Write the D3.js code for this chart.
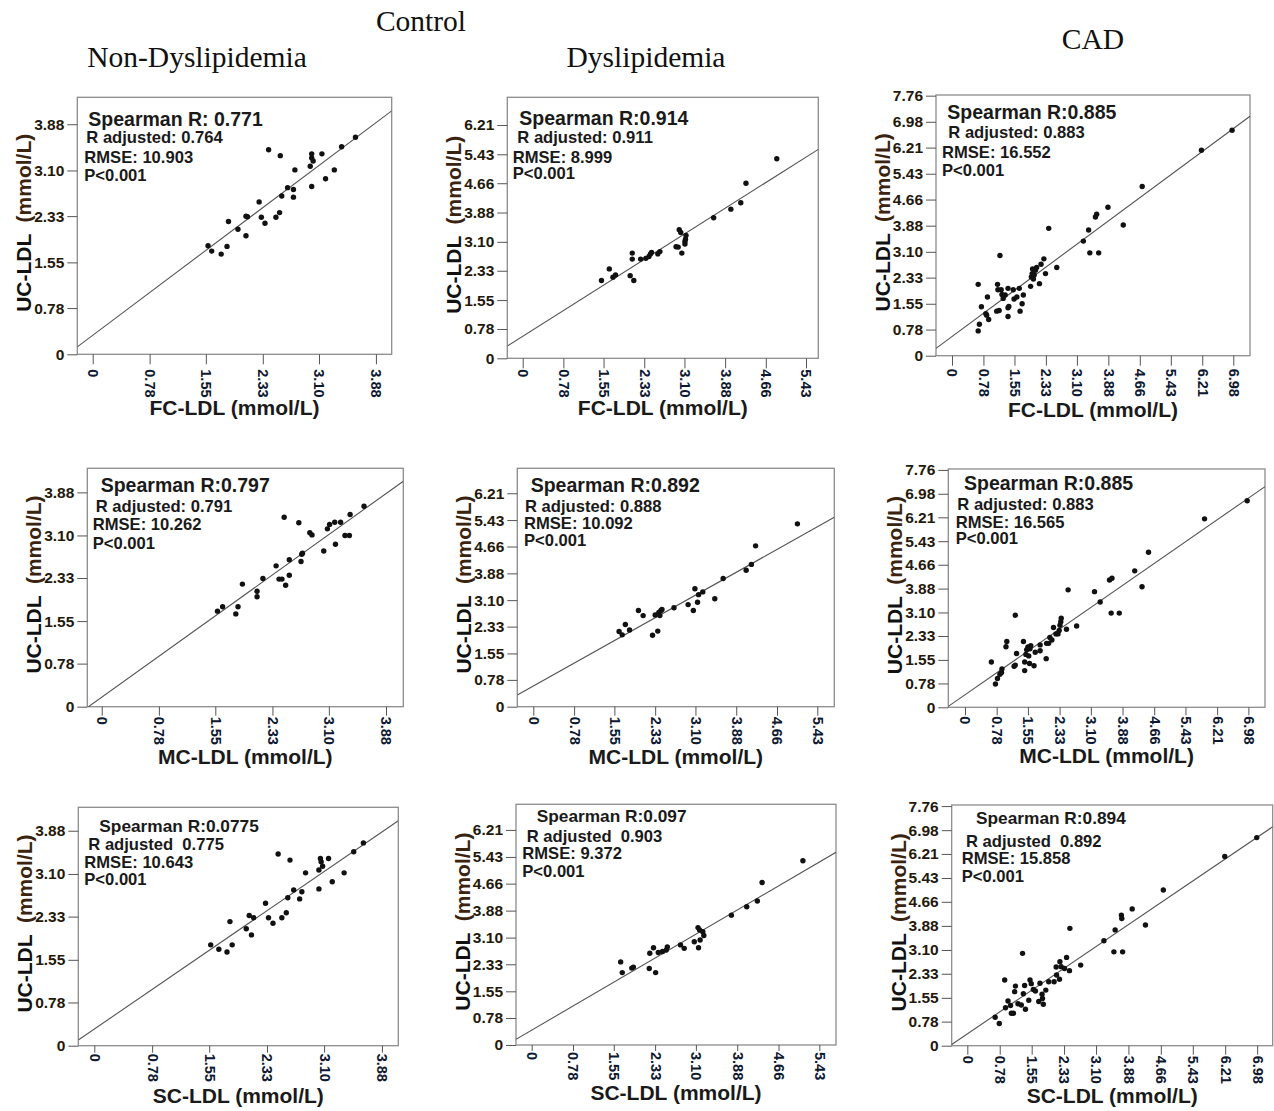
<!DOCTYPE html>
<html>
<head>
<meta charset="utf-8">
<script src="https://cdn.jsdelivr.net/npm/d3@7"></script>
<style>
  body { margin: 0; background: #fff; }
  text { font-family: 'Liberation Sans', Arial, sans-serif; }
</style>
</head>
<body>
<script>
//Data - [x, y] in mmol/L
const ndFC = [[1.58,1.83],[1.63,1.74],[1.76,1.69],[1.84,1.82],[1.86,2.24],[1.99,2.11],[2.10,2.00],[2.10,2.33],[2.12,2.32],[2.28,2.57],[2.31,2.31],[2.36,2.21],[2.41,3.45],[2.51,2.31],[2.56,2.39],[2.57,3.35],[2.59,2.67],[2.67,2.81],[2.75,2.78],[2.75,2.65],[2.77,3.11],[2.98,3.17],[3.00,3.38],[3.00,3.31],[3.02,3.26],[3.00,2.83],[3.14,3.38],[3.19,2.96],[3.31,3.11],[3.41,3.50],[3.60,3.66]];
const dFC = [[1.51,2.07],[1.66,2.38],[1.73,2.16],[1.78,2.22],[2.06,2.20],[2.10,2.80],[2.10,2.64],[2.13,2.07],[2.26,2.64],[2.36,2.66],[2.42,2.71],[2.45,2.78],[2.47,2.82],[2.59,2.78],[2.63,2.84],[2.94,2.97],[2.98,2.96],[3.00,3.42],[3.03,3.35],[3.05,2.80],[3.11,3.04],[3.12,3.17],[3.13,3.27],[3.11,3.11],[3.66,3.74],[3.99,3.97],[4.18,4.14],[4.28,4.66],[4.87,5.31]];
const cadFC = [[0.65,0.74],[0.68,0.94],[0.65,2.13],[0.73,1.46],[0.88,1.75],[0.84,1.25],[0.91,1.08],[0.86,1.21],[1.11,1.33],[1.13,2.13],[1.14,1.97],[1.17,1.35],[1.19,2.99],[1.22,1.97],[1.24,1.83],[1.27,1.71],[1.32,1.81],[1.39,2.01],[1.39,1.43],[1.39,1.17],[1.41,1.47],[1.52,1.97],[1.54,1.69],[1.61,1.75],[1.67,2.01],[1.69,1.33],[1.74,1.55],[1.77,1.81],[1.95,2.07],[1.97,2.35],[1.99,2.45],[2.00,2.59],[2.02,2.29],[2.04,2.41],[2.07,2.55],[2.10,2.63],[2.17,2.15],[2.21,2.73],[2.28,2.89],[2.32,2.45],[2.40,3.80],[2.60,2.63],[3.26,3.42],[3.39,3.75],[3.42,3.07],[3.56,4.14],[3.59,4.22],[3.64,3.07],[3.87,4.43],[4.25,3.90],[4.72,5.05],[6.19,6.13],[6.95,6.73]];
const ndMC = [[1.58,1.73],[1.65,1.81],[1.83,1.68],[1.86,1.81],[1.92,2.22],[2.12,2.09],[2.12,1.99],[2.20,2.32],[2.38,2.55],[2.42,2.31],[2.46,2.31],[2.49,3.43],[2.51,2.20],[2.56,2.66],[2.56,2.38],[2.69,3.33],[2.72,2.63],[2.73,2.76],[2.74,2.78],[2.84,3.15],[2.87,3.11],[3.03,2.82],[3.08,3.22],[3.11,3.30],[3.18,3.34],[3.19,2.94],[3.26,3.34],[3.32,3.10],[3.38,3.10],[3.39,3.48],[3.58,3.63]];
const dMC = [[1.64,2.19],[1.70,2.09],[1.76,2.39],[1.84,2.23],[2.01,2.80],[2.10,2.65],[2.28,2.08],[2.33,2.67],[2.38,2.20],[2.40,2.74],[2.42,2.65],[2.44,2.80],[2.46,2.83],[2.69,2.88],[2.96,2.97],[3.06,2.80],[3.09,3.43],[3.14,3.04],[3.16,3.26],[3.24,3.34],[3.47,3.14],[3.63,3.73],[4.07,3.97],[4.17,4.14],[4.25,4.68],[5.05,5.32]];
const cadMC = [[0.65,1.48],[0.75,0.76],[0.80,0.94],[0.86,1.08],[0.90,1.14],[0.91,1.25],[1.01,1.98],[1.03,2.15],[1.21,1.34],[1.24,1.38],[1.24,3.01],[1.27,1.76],[1.44,2.15],[1.47,1.20],[1.47,1.48],[1.50,1.73],[1.52,1.88],[1.55,1.97],[1.57,1.68],[1.59,1.43],[1.60,1.91],[1.62,2.01],[1.70,1.36],[1.73,1.80],[1.85,1.85],[1.85,2.04],[2.00,1.59],[2.01,2.09],[2.06,2.09],[2.09,2.28],[2.14,2.20],[2.18,2.61],[2.24,2.40],[2.29,2.40],[2.32,2.51],[2.34,2.68],[2.37,2.91],[2.36,2.80],[2.50,2.55],[2.54,3.84],[2.75,2.66],[3.19,3.78],[3.33,3.44],[3.56,4.16],[3.62,4.22],[3.60,3.08],[3.80,3.08],[4.18,4.46],[4.36,3.94],[4.52,5.07],[5.90,6.16],[6.95,6.75]];
const ndSC = [[1.57,1.82],[1.68,1.74],[1.79,1.69],[1.83,2.24],[1.86,1.82],[2.05,2.11],[2.09,2.35],[2.12,2.00],[2.15,2.31],[2.31,2.57],[2.35,2.31],[2.41,2.21],[2.48,3.46],[2.53,2.31],[2.59,2.40],[2.61,2.67],[2.64,3.35],[2.69,2.81],[2.77,2.65],[2.80,2.78],[2.85,3.12],[3.03,2.83],[3.03,3.17],[3.05,3.38],[3.06,3.32],[3.08,3.24],[3.16,3.38],[3.21,2.96],[3.37,3.12],[3.50,3.50],[3.63,3.66]];
const dSC = [[1.68,2.40],[1.71,2.09],[1.89,2.22],[1.92,2.25],[2.22,2.21],[2.23,2.65],[2.30,2.81],[2.34,2.09],[2.39,2.67],[2.47,2.70],[2.54,2.74],[2.56,2.83],[2.81,2.89],[2.88,2.79],[3.07,2.98],[3.14,3.39],[3.15,2.81],[3.17,3.32],[3.18,3.03],[3.23,3.27],[3.25,3.16],[3.77,3.75],[4.06,3.99],[4.26,4.16],[4.35,4.69],[5.12,5.32]];
const cadSC = [[0.67,0.92],[0.77,0.72],[0.90,2.13],[0.92,1.23],[0.98,1.45],[1.04,1.30],[1.06,1.05],[1.11,1.05],[1.14,1.75],[1.16,1.93],[1.22,1.36],[1.30,1.32],[1.33,2.99],[1.35,1.68],[1.38,1.95],[1.40,1.18],[1.48,1.47],[1.51,2.13],[1.54,2.01],[1.59,1.82],[1.64,1.77],[1.72,1.43],[1.75,2.02],[1.80,1.67],[1.81,1.53],[1.83,1.34],[1.89,1.80],[1.96,2.07],[2.09,2.07],[2.14,2.55],[2.15,2.29],[2.22,2.15],[2.23,2.72],[2.26,2.56],[2.34,2.50],[2.39,2.86],[2.46,2.43],[2.47,3.80],[2.73,2.61],[3.29,3.40],[3.53,3.04],[3.56,3.75],[3.71,4.23],[3.72,4.12],[3.74,3.04],[3.97,4.43],[4.29,3.91],[4.72,5.04],[6.20,6.13],[6.97,6.74]];

//fit lines [intercept, slope]
const fitLines = [[0.32,0.924],[0.586,0.878],[0.572,0.889],[0.172,0.95],[0.60,0.853],[0.41,0.921],[0.30,0.917],[0.428,0.894],[0.383,0.912]];

//statistics text
const statTexts = [
    ['Spearman R: 0.771', 'R adjusted: 0.764', 'RMSE: 10.903', 'P<0.001'],
    ['Spearman R:0.914', 'R adjusted: 0.911', 'RMSE: 8.999', 'P<0.001'],
    ['Spearman R:0.885', 'R adjusted: 0.883', 'RMSE: 16.552', 'P<0.001'],
    ['Spearman R:0.797', 'R adjusted: 0.791', 'RMSE: 10.262', 'P<0.001'],
    ['Spearman R:0.892', 'R adjusted: 0.888', 'RMSE: 10.092', 'P<0.001'],
    ['Spearman R:0.885', 'R adjusted: 0.883', 'RMSE: 16.565', 'P<0.001'],
    ['Spearman R:0.0775', 'R adjusted  0.775', 'RMSE: 10.643', 'P<0.001'],
    ['Spearman R:0.097', 'R adjusted  0.903', 'RMSE: 9.372', 'P<0.001'],
    ['Spearman R:0.894', 'R adjusted  0.892', 'RMSE: 15.858', 'P<0.001']
];

//tick labels
const ticks388 = ['0', '0.78', '1.55', '2.33', '3.10', '3.88'];
const ticks543 = ticks388.concat(['4.66', '5.43']);
const ticks621 = ticks543.concat(['6.21']);
const ticks698 = ticks621.concat(['6.98']);
const ticks776 = ticks698.concat(['7.76']);

const methods = ['FC-LDL', 'MC-LDL', 'SC-LDL'];
const yTitle = 'UC-LDL';
const unit = '(mmol/L)';
const groupTitle = 'Control';
const colTitles = ['Non-Dyslipidemia', 'Dyslipidemia', 'CAD'];

//Layout: frame box [left, top, right, bottom], x domain, y max,
//xl = x title offset, xp = x tick label gap, notes = stat text offsets
const panels = [
    { pts: ndFC, xt: ticks388, yt: ticks388, box: [77.3, 97.3, 391.7, 354.3], xd: [-0.211, 4.096], ymax: 4.334, xl: 61, xp: 15, notes: [[11, 29], [9, 46], [7, 65.4], [7, 83.4]], big: 19.5 },
    { pts: dFC, xt: ticks543, yt: ticks621, box: [507.3, 97.3, 818.3, 358.3], xd: [-0.295, 5.666], ymax: 6.947, xl: 57, xp: 11, notes: [[12, 28], [10, 46], [5.4, 65.4], [5.4, 82]], big: 19.5 },
    { pts: cadFC, xt: ticks698, yt: ticks776, box: [936, 95, 1250, 355.7], xd: [-0.397, 7.395], ymax: 7.78, xl: 61, xp: 13, notes: [[11.3, 24.3], [12.3, 43.3], [6, 62.7], [6, 80.7]], big: 19.5 },
    { pts: ndMC, xt: ticks388, yt: ticks388, box: [87.3, 468.3, 403.3, 706.7], xd: [-0.197, 4.116], ymax: 4.316, xl: 57, xp: 10, notes: [[13.4, 24], [8.4, 44], [5.4, 62], [5.4, 80.2]], big: 19.5 },
    { pts: dMC, xt: ticks543, yt: ticks621, box: [517.3, 468.3, 834.3, 706.7], xd: [-0.306, 5.755], ymax: 6.936, xl: 57, xp: 10, notes: [[13.4, 23.4], [7.7, 44], [6.7, 61], [6.7, 77.7]], big: 19.5 },
    { pts: cadMC, xt: ticks698, yt: ticks776, box: [948.3, 469, 1265, 707.3], xd: [-0.411, 7.389], ymax: 7.79, xl: 56, xp: 9, notes: [[15.7, 21], [9, 41], [7.4, 58.7], [7.4, 75.3]], big: 19.5 },
    { pts: ndSC, xt: ticks388, yt: ticks388, box: [78.3, 807.3, 398.3, 1045.7], xd: [-0.216, 4.101], ymax: 4.303, xl: 57, xp: 8, notes: [[21, 24.4], [10, 42.7], [6, 60.4], [6, 77.7]], big: 17.3 },
    { pts: dSC, xt: ticks543, yt: ticks621, box: [516, 804.3, 836, 1045], xd: [-0.296, 5.745], ymax: 6.95, xl: 55, xp: 7, notes: [[20.7, 17.4], [10.7, 37.4], [6.3, 55], [6.3, 72.4]], big: 17.3 },
    { pts: cadSC, xt: ticks698, yt: ticks776, box: [951.7, 805, 1272.7, 1045.7], xd: [-0.376, 7.354], ymax: 7.795, xl: 57, xp: 10, notes: [[24.3, 19.3], [14.3, 41.7], [10, 59.3], [10, 76.7]], big: 17.3 }
];

const svg = d3.select('body').append('svg')
    .attr('width', 1274).attr('height', 1111);

//column headers
const serif = "'Liberation Serif', 'Times New Roman', serif";
const headerPos = [[197, 67], [646, 67], [1093, 49]];
svg.append('text').attr('x', 421).attr('y', 31).attr('text-anchor', 'middle')
    .style('font-family', serif).style('font-size', '29.5px').style('fill', '#111')
    .text(groupTitle);
svg.selectAll('.col-title').data(colTitles).enter()
    .append('text').attr('class', 'col-title')
    .attr('x', (d, i) => headerPos[i][0]).attr('y', (d, i) => headerPos[i][1])
    .attr('text-anchor', 'middle')
    .style('font-family', serif).style('font-size', '29.5px').style('fill', '#111')
    .text(d => d);

panels.forEach((p, i) => drawPanel(p, i));

function drawPanel(p, i) {
    const [L, T, R, B] = p.box;
    const g = svg.append('g');
    const xScale = d3.scaleLinear().domain(p.xd).range([L, R]);
    const yScale = d3.scaleLinear().domain([0, p.ymax]).range([B, T]);

    const clipId = 'clip' + i;
    g.append('clipPath').attr('id', clipId)
        .append('rect').attr('x', L).attr('y', T).attr('width', R - L).attr('height', B - T);

    //frame
    g.append('rect').attr('x', L).attr('y', T).attr('width', R - L).attr('height', B - T)
        .style('fill', 'none').style('stroke', '#8c8c8c').style('stroke-width', 1.3);

    //axes
    const yAxis = d3.axisLeft(yScale).tickValues(p.yt.map(Number))
        .tickFormat((d, k) => p.yt[k]).tickSize(10).tickPadding(3);
    const yAxisDraw = g.append('g').attr('transform', `translate(${L},0)`).call(yAxis);
    yAxisDraw.select('.domain').remove();
    yAxisDraw.selectAll('line').style('stroke', '#555');
    yAxisDraw.selectAll('text')
        .style('font-size', '15.5px').style('font-weight', 'bold').style('fill', '#24180a');

    const xAxis = d3.axisBottom(xScale).tickValues(p.xt.map(Number))
        .tickFormat((d, k) => p.xt[k]).tickSize(Math.min(10, p.xp - 1));
    const xAxisDraw = g.append('g').attr('transform', `translate(0,${B})`).call(xAxis);
    xAxisDraw.select('.domain').remove();
    xAxisDraw.selectAll('line').style('stroke', '#555');
    xAxisDraw.selectAll('text')
        .attr('y', 0).attr('x', p.xp).attr('dy', '0.35em')
        .attr('transform', 'rotate(90)')
        .style('text-anchor', 'start')
        .style('font-size', '14.5px').style('font-weight', 'bold').style('fill', '#0e1830');

    //fit line
    const [a, b] = fitLines[i];
    g.append('path')
        .attr('clip-path', `url(#${clipId})`)
        .attr('d', d3.line()(p.xd.map(x => [xScale(x), yScale(a + b * x)])))
        .style('fill', 'none').style('stroke', '#555').style('stroke-width', 1.1);

    //points
    g.selectAll('.dot').data(p.pts).enter()
        .append('circle').attr('class', 'dot')
        .attr('cx', d => xScale(d[0]))
        .attr('cy', d => yScale(d[1]))
        .attr('r', 2.7)
        .style('fill', '#111');

    //statistics
    g.selectAll('.note').data(statTexts[i]).enter()
        .append('text').attr('class', 'note')
        .attr('x', (d, k) => L + p.notes[k][0])
        .attr('y', (d, k) => T + p.notes[k][1])
        .style('white-space', 'pre')
        .style('font-size', (d, k) => (k === 0 ? p.big : 16.6) + 'px')
        .style('font-weight', 'bold').style('fill', '#1a1a1a')
        .text(d => d);

    //axis titles
    const xTitle = g.append('text')
        .attr('x', (L + R) / 2).attr('y', B + p.xl)
        .attr('text-anchor', 'middle')
        .style('font-size', '21px').style('font-weight', 'bold').style('fill', '#1a1a1a');
    xTitle.append('tspan').text(methods[Math.floor(i / 3)] + ' ');
    xTitle.append('tspan').text(unit);

    const yT = g.append('text')
        .attr('transform', `translate(${L - 46},${(T + B) / 2 - 3}) rotate(-90)`)
        .attr('text-anchor', 'middle')
        .style('white-space', 'pre')
        .style('font-size', '21px').style('font-weight', 'bold').style('fill', '#111');
    yT.append('tspan').text(yTitle + '  ');
    yT.append('tspan').text(unit).style('fill', '#3a2410');
}
</script>
</body>
</html>
